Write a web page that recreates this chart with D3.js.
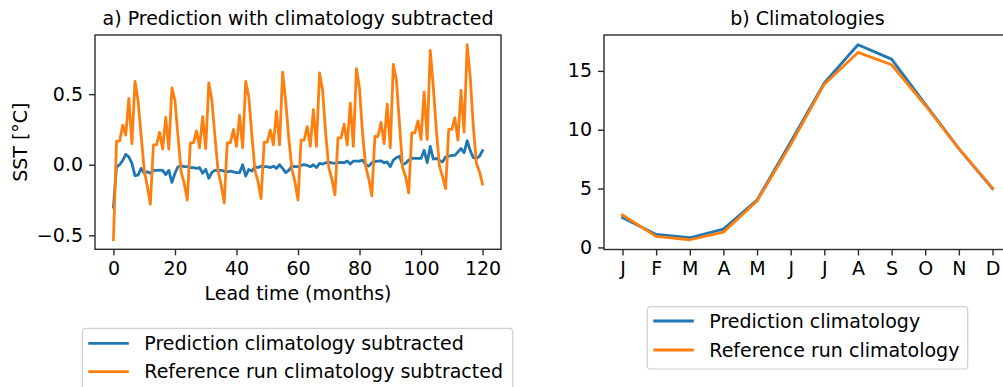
<!DOCTYPE html>
<html>
<head>
<meta charset="utf-8">
<script src="https://cdn.jsdelivr.net/npm/d3@7"></script>
<style>
  html, body { margin: 0; padding: 0; background: #fff; }
  svg { display: block; }
  text { font-family: "DejaVu Sans", sans-serif; fill: #000; }
</style>
</head>
<body>
<svg id="chart" width="1003" height="387"></svg>
<script>
// ---- Panel a: SST anomalies per lead month (0..120) ----
const predAnom = [
  -0.30, -0.014, 0.0, 0.03, 0.073, 0.056, 0.01, -0.077, -0.073, -0.026, -0.06, -0.05, -0.06,
  -0.04, -0.04, -0.038, -0.04, -0.07, -0.04, -0.125, -0.06, -0.014, -0.007, -0.014, -0.014,
  -0.02, -0.02, -0.026, -0.02, -0.06, -0.033, -0.096, -0.054, -0.04, -0.04, -0.04, -0.045,
  -0.05, -0.045, -0.05, -0.056, -0.056, 0.0, -0.08, -0.033, -0.045, -0.014, -0.02, -0.01,
  -0.014, -0.014, -0.02, -0.01, -0.026, 0.0, -0.026, -0.056, -0.04, -0.01, -0.014, -0.014,
  -0.005, 0.0, -0.005, -0.014, 0.0, -0.02, 0.01, 0.005, 0.014, 0.016, 0.014, 0.01,
  0.016, 0.016, 0.014, 0.026, 0.005, 0.026, 0.026, 0.026, 0.033, 0.0, -0.01, 0.014,
  0.023, 0.026, 0.028, 0.014, 0.02, -0.014, 0.033, 0.05, 0.06, 0.0, 0.01, 0.033,
  0.047, 0.045, 0.045, 0.045, 0.103, 0.014, 0.13, 0.04, 0.045, 0.03, 0.02, 0.056,
  0.06, 0.066, 0.066, 0.09, 0.115, 0.085, 0.17, 0.1, 0.05, 0.045, 0.06, 0.1
];
const refAnom = [
  -0.53, 0.167, 0.167, 0.28, 0.21, 0.47, 0.15, 0.59, 0.455, 0.21, -0.04, -0.15, -0.28,
  0.14, 0.14, 0.23, 0.11, 0.335, 0.11, 0.545, 0.455, 0.2, -0.05, -0.13, -0.25,
  0.155, 0.155, 0.24, 0.12, 0.34, 0.115, 0.58, 0.455, 0.2, -0.04, -0.14, -0.27,
  0.155, 0.155, 0.25, 0.13, 0.35, 0.12, 0.59, 0.48, 0.21, -0.04, -0.12, -0.24,
  0.16, 0.16, 0.245, 0.14, 0.38, 0.14, 0.655, 0.45, 0.19, -0.03, -0.12, -0.25,
  0.174, 0.174, 0.27, 0.13, 0.39, 0.13, 0.65, 0.526, 0.22, -0.02, -0.1, -0.213,
  0.19, 0.19, 0.287, 0.14, 0.437, 0.13, 0.68, 0.538, 0.22, -0.01, -0.1, -0.22,
  0.2, 0.2, 0.3, 0.15, 0.43, 0.12, 0.71, 0.6, 0.29, -0.02, -0.085, -0.2,
  0.226, 0.226, 0.31, 0.18, 0.514, 0.18, 0.81, 0.55, 0.24, -0.01, -0.085, -0.17,
  0.25, 0.25, 0.334, 0.174, 0.526, 0.23, 0.85, 0.62, 0.27, 0.01, -0.05, -0.136
];
const leadTicks = [0, 20, 40, 60, 80, 100, 120];
const anomTicks = [-0.5, 0.0, 0.5];

// ---- Panel b: monthly climatologies ----
const months = ["J", "F", "M", "A", "M", "J", "J", "A", "S", "O", "N", "D"];
const predClim = [2.53, 1.1, 0.82, 1.56, 4.03, 8.96, 13.98, 17.22, 16.0, 12.17, 8.4, 4.99];
const refClim  = [2.75, 0.94, 0.65, 1.3, 3.94, 8.74, 13.87, 16.57, 15.52, 12.08, 8.4, 5.05];
const climTicks = [0, 5, 10, 15];

const seriesA = [
  { name: "Prediction climatology subtracted", values: predAnom, color: "#1f77b4" },
  { name: "Reference run climatology subtracted", values: refAnom, color: "#ff7f0e" }
];
const seriesB = [
  { name: "Prediction climatology", values: predClim, color: "#1f77b4" },
  { name: "Reference run climatology", values: refClim, color: "#ff7f0e" }
];

const svg = d3.select("#chart");
const FS = 19;
const LW = 2.8;
const TICK = 6;

function padded(lo, hi) {
  const m = (hi - lo) * 0.05;
  return [lo - m, hi + m];
}

function drawPanel(box, xScale, yScale, series, xFn, xTicks, xFmt, yTicks, yFmt, title, xLabel, yLabel) {
  const g = svg.append("g");
  const clipId = "clip" + Math.round(box.x0);
  svg.append("defs").append("clipPath").attr("id", clipId)
    .append("rect").attr("x", box.x0).attr("y", box.y0)
    .attr("width", box.x1 - box.x0).attr("height", box.y1 - box.y0);

  const line = d3.line().x((d, i) => xScale(xFn(i))).y(d => yScale(d));
  series.forEach(s => {
    g.append("path")
      .datum(s.values)
      .attr("d", line)
      .attr("fill", "none")
      .attr("stroke", s.color)
      .attr("stroke-width", LW)
      .attr("stroke-linejoin", "round")
      .attr("stroke-linecap", "square")
      .attr("clip-path", `url(#${clipId})`);
  });

  // spines
  g.append("rect")
    .attr("x", box.x0).attr("y", box.y0)
    .attr("width", box.x1 - box.x0).attr("height", box.y1 - box.y0)
    .attr("fill", "none").attr("stroke", "#2b2b2b").attr("stroke-width", 1.4);

  // x axis
  const xAxis = d3.axisBottom(xScale).tickValues(xTicks).tickFormat(xFmt)
    .tickSize(TICK).tickPadding(6).tickSizeOuter(0);
  const gx = g.append("g").attr("transform", `translate(0,${box.y1})`).call(xAxis);
  gx.select(".domain").remove();
  gx.selectAll(".tick line").attr("stroke", "#2b2b2b").attr("stroke-width", 1.4);
  gx.selectAll(".tick text").attr("font-size", FS).attr("font-family", "DejaVu Sans").attr("fill", "#000");

  // y axis
  const yAxis = d3.axisLeft(yScale).tickValues(yTicks).tickFormat(yFmt)
    .tickSize(TICK).tickPadding(6).tickSizeOuter(0);
  const gy = g.append("g").attr("transform", `translate(${box.x0},0)`).call(yAxis);
  gy.select(".domain").remove();
  gy.selectAll(".tick line").attr("stroke", "#2b2b2b").attr("stroke-width", 1.4);
  gy.selectAll(".tick text").attr("font-size", FS).attr("font-family", "DejaVu Sans").attr("fill", "#000");

  // title
  g.append("text")
    .attr("x", (box.x0 + box.x1) / 2).attr("y", 25)
    .attr("text-anchor", "middle").attr("font-size", FS)
    .text(title);

  if (xLabel) {
    g.append("text")
      .attr("x", (box.x0 + box.x1) / 2).attr("y", 300)
      .attr("text-anchor", "middle").attr("font-size", FS)
      .text(xLabel);
  }
  if (yLabel) {
    g.append("text")
      .attr("transform", `translate(27,${(box.y0 + box.y1) / 2}) rotate(-90)`)
      .attr("text-anchor", "middle").attr("font-size", FS)
      .text(yLabel);
  }
}

function drawLegend(lx, ly, w, h, rowY, series) {
  const g = svg.append("g");
  g.append("rect")
    .attr("x", lx).attr("y", ly).attr("width", w).attr("height", h)
    .attr("rx", 3.5).attr("fill", "#fff").attr("fill-opacity", 0.8)
    .attr("stroke", "#d0d0d0").attr("stroke-width", 1.2);
  series.forEach((s, i) => {
    const y = rowY[i];
    g.append("line")
      .attr("x1", lx + 6).attr("x2", lx + 46.5)
      .attr("y1", y).attr("y2", y)
      .attr("stroke", s.color).attr("stroke-width", LW);
    g.append("text")
      .attr("x", lx + 62).attr("y", y)
      .attr("dy", "0.35em").attr("font-size", FS)
      .text(s.name);
  });
}

// ---- Panel a ----
const boxA = { x0: 95, x1: 501, y0: 35, y1: 249.3 };
const allA = predAnom.concat(refAnom);
const xA = d3.scaleLinear().domain(padded(0, refAnom.length - 1)).range([boxA.x0, boxA.x1]);
const yA = d3.scaleLinear().domain(padded(d3.min(allA), d3.max(allA))).range([boxA.y1, boxA.y0]);
const minusFmt = v => d3.format(".1f")(v).replace("-", "\u2212");
drawPanel(boxA, xA, yA, seriesA, i => i, leadTicks, d3.format("d"), anomTicks, minusFmt,
  "a) Prediction with climatology subtracted", "Lead time (months)", "SST [\u00b0C]");

// ---- Panel b ----
const boxB = { x0: 604, x1: 1011, y0: 35, y1: 249.5 };
const allB = predClim.concat(refClim);
const xB = d3.scaleLinear().domain(padded(0, months.length - 1)).range([boxB.x0, boxB.x1]);
const yB = d3.scaleLinear().domain(padded(d3.min(allB), d3.max(allB))).range([boxB.y1, boxB.y0]);
drawPanel(boxB, xB, yB, seriesB, i => i, d3.range(months.length), i => months[i], climTicks, d3.format("d"),
  "b) Climatologies", null, null);

// ---- Legends ----
drawLegend(82.3, 328.3, 430.4, 70, [343.3, 371.7], seriesA);
drawLegend(647.3, 306.7, 320.4, 62.3, [321, 350], seriesB);
</script>
</body>
</html>
